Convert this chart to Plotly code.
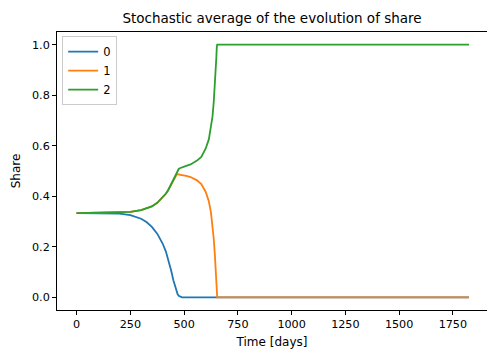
import plotly.graph_objects as go

days = [0, 100, 200, 250, 300, 325, 350, 375, 400, 415, 425, 440, 450, 460, 465, 470, 475,
        480, 490, 510, 530, 560, 580, 600, 615, 625, 632, 638, 643, 647, 650, 652, 654,
        700, 1000, 1500, 1825]

share_0 = [0.333, 0.333, 0.331, 0.325, 0.311, 0.298, 0.279, 0.252, 0.213, 0.182, 0.155,
           0.105, 0.068, 0.035, 0.022, 0.012, 0.006, 0.003, 0.0, 0.0, 0.0, 0.0, 0.0, 0.0,
           0.0, 0.0, 0.0, 0.0, 0.0, 0.0, 0.0, 0.0, 0.0, 0.0, 0.0, 0.0, 0.0]

share_1 = [0.333, 0.334, 0.335, 0.338, 0.345, 0.351, 0.360, 0.374, 0.394, 0.410, 0.423,
           0.448, 0.466, 0.480, 0.485, 0.487, 0.487, 0.486, 0.484, 0.481, 0.476, 0.463,
           0.448, 0.418, 0.380, 0.335, 0.288, 0.230, 0.170, 0.110, 0.055, 0.015, 0.0,
           0.0, 0.0, 0.0, 0.0]

share_2 = [0.333, 0.334, 0.335, 0.338, 0.345, 0.351, 0.360, 0.374, 0.394, 0.410, 0.423,
           0.448, 0.468, 0.487, 0.496, 0.503, 0.508, 0.511, 0.515, 0.520, 0.526, 0.541,
           0.556, 0.588, 0.625, 0.670, 0.715, 0.775, 0.835, 0.895, 0.950, 0.990, 1.0,
           1.0, 1.0, 1.0, 1.0]

names = ["0", "1", "2"]
colors = ["#1f77b4", "#ff7f0e", "#2ca02c"]

fig = go.Figure()
for name, ys, c in zip(names, [share_0, share_1, share_2], colors):
    fig.add_trace(go.Scatter(x=days, y=ys, mode="lines", name=name,
                             line=dict(color=c, width=1.8)))

font = "DejaVu Sans"
fig.update_layout(
    width=487, height=350,
    margin=dict(l=57, r=0, t=32, b=40),
    plot_bgcolor="white", paper_bgcolor="white",
    font=dict(family=font, size=11, color="black"),
    title=dict(text="Stochastic average of the evolution of share",
               x=0.5, xanchor="center", xref="paper", y=1 - 18 / 350, yanchor="middle",
               font=dict(size=13.5, family=font, color="black")),
    showlegend=True,
    legend=dict(x=0.012, y=0.985, xanchor="left", yanchor="top",
                bgcolor="rgba(255,255,255,0.8)", bordercolor="#cccccc", borderwidth=1,
                font=dict(size=11.5, family=font), itemwidth=30, tracegroupgap=2),
)
fig.update_xaxes(range=[-91.2, 1908.8], tickvals=[0, 250, 500, 750, 1000, 1250, 1500, 1750],
                 showgrid=False, zeroline=False, showline=True, linecolor="black",
                 linewidth=1, mirror=True, ticks="outside", ticklen=4, tickcolor="black",
                 tickfont=dict(size=11.2),
                 title=dict(text="Time [days]", font=dict(size=12, family=font), standoff=7))
fig.update_yaxes(range=[-0.05, 1.05], tickvals=[0, 0.2, 0.4, 0.6, 0.8, 1.0], tickformat=".1f",
                 showgrid=False, zeroline=False, showline=True, linecolor="black",
                 linewidth=1, mirror=False, ticks="outside", ticklen=4, tickcolor="black",
                 tickfont=dict(size=11.2),
                 title=dict(text="Share", font=dict(size=12, family=font), standoff=8))

fig.write_html("out.html")
